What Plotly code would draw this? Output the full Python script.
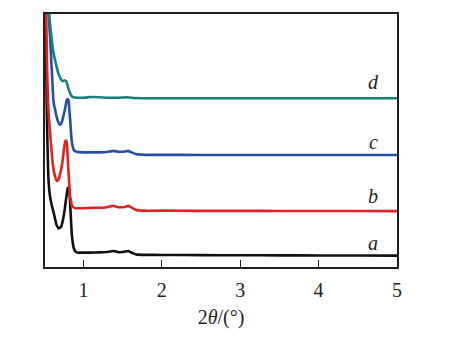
import plotly.graph_objects as go

# 2theta values (degrees) and intensities (arbitrary, offset)
a_x = [0.516, 0.524, 0.531, 0.537, 0.543, 0.548, 0.554, 0.563, 0.575, 0.595, 0.617, 0.635, 0.652, 0.667, 0.681, 0.698, 0.716, 0.732, 0.747, 0.763, 0.779, 0.79, 0.798, 0.805, 0.811, 0.818, 0.824, 0.83, 0.837, 0.845, 0.852, 0.86, 0.869, 0.88, 0.894, 0.91, 0.932, 0.96, 1.0,
       1.1, 1.2, 1.3, 1.34, 1.38, 1.42, 1.45, 1.49, 1.52, 1.57, 1.6, 1.63, 1.68, 1.8, 2.0, 2.5, 3.0, 3.5, 4.0, 4.5, 5.0]
a_y = [256, 215, 169, 140, 119, 103, 89, 79, 71, 63, 56, 50, 44, 41, 39, 39.5, 41, 45, 51, 59, 69, 75, 79, 80.5, 80, 78, 74, 65, 54, 42, 33, 27, 22, 18.5, 16, 15, 14.5, 14.5, 14.5,
       14.5, 14.8, 15.2, 15.6, 16.2, 15.6, 15, 15.2, 15.5, 16.2, 15.2, 14, 12.5, 12.3, 12.2, 12, 11.9, 11.8, 11.7, 11.6, 11.5]

b_x = [0.52, 0.525, 0.531, 0.537, 0.548, 0.56, 0.575, 0.592, 0.61, 0.628, 0.645, 0.655, 0.665, 0.677, 0.69, 0.705, 0.72, 0.733, 0.745, 0.755, 0.765, 0.772, 0.778, 0.784, 0.79, 0.795, 0.80, 0.807, 0.815, 0.822, 0.83, 0.84, 0.85, 0.865, 0.88, 0.9, 0.93, 1.0,
       1.1, 1.2, 1.3, 1.34, 1.38, 1.42, 1.45, 1.49, 1.52, 1.57, 1.6, 1.63, 1.68, 1.8, 2.0, 2.5, 3.0, 3.5, 4.0, 4.5, 5.0]
b_y = [270, 256, 228, 200, 169, 150, 136, 119, 104, 95, 90, 88, 87, 88, 90, 95, 100, 107, 115, 121, 126, 127.5, 128, 127, 124, 118, 110, 100, 90, 80, 72, 67, 63, 61, 60, 59.6, 59.5, 59.5,
       59.8, 60, 60.5, 61.2, 62, 61, 60.5, 60.4, 60.5, 62, 60.8, 59.5, 57.5, 57, 57, 56.8, 56.8, 56.7, 56.6, 56.6, 56.5]

c_x = [0.55, 0.556, 0.565, 0.575, 0.586, 0.597, 0.607, 0.617, 0.628, 0.64, 0.652, 0.665, 0.683, 0.70, 0.715, 0.73, 0.745, 0.76, 0.773, 0.785, 0.793, 0.80, 0.808, 0.815, 0.822, 0.83, 0.838, 0.845, 0.852, 0.86, 0.87, 0.88, 0.9, 0.92, 1.0,
       1.1, 1.2, 1.3, 1.34, 1.38, 1.42, 1.45, 1.49, 1.52, 1.57, 1.6, 1.63, 1.68, 1.8, 2.0, 2.5, 3.0, 3.5, 4.0, 4.5, 5.0]
c_y = [270, 256, 244, 232, 215, 199, 183, 169, 163, 159, 154, 150, 146, 144, 145, 148, 153, 158, 163, 168, 169.5, 170, 169, 165, 158, 150, 141, 133, 127, 123, 120, 118, 117, 116.5, 116,
       116, 116, 116.3, 116.8, 117.5, 117, 116.5, 116.6, 116.8, 117.5, 116.5, 115.5, 114, 113.5, 113.5, 113.4, 113.3, 113.3, 113.3, 113.3, 113.3]

d_x = [0.556, 0.5625, 0.568, 0.575, 0.586, 0.597, 0.61, 0.625, 0.64, 0.66, 0.68, 0.70, 0.72, 0.74, 0.75, 0.76, 0.77, 0.78, 0.79, 0.80, 0.815, 0.83, 0.842, 0.855, 0.875, 0.9, 1.0,
       1.09, 1.15, 1.3, 1.45, 1.56, 1.65, 1.75, 2.0, 2.5, 3.0, 3.5, 4.0, 4.5, 5.0]
d_y = [270, 256, 251, 246, 237, 229, 221, 214, 209, 202, 196, 192, 189, 188, 188.5, 189, 188.5, 188, 186, 183, 179, 176, 174, 172.5, 171.8, 171.5, 171.3,
       172, 172, 171.3, 171.3, 171.8, 171, 170.8, 170.7, 170.7, 170.7, 170.7, 170.7, 170.7, 170.7]

labels = ["a", "b", "c", "d"]
label_x = [4.7, 4.7, 4.7, 4.7]
label_y = [24, 72, 126, 187]

colors = ["#111111", "#e5201f", "#2150a5", "#17807b"]

SERIF = "Liberation Serif, Times New Roman, DejaVu Serif, serif"

fig = go.Figure()
for xs, ys, col in [(a_x, a_y, colors[0]), (b_x, b_y, colors[1]), (c_x, c_y, colors[2]), (d_x, d_y, colors[3])]:
    fig.add_trace(go.Scatter(x=xs, y=ys, mode="lines",
                             line=dict(color=col, width=2.6, shape="spline", smoothing=0.3),
                             showlegend=False, hoverinfo="skip"))

for lab, lx, ly in zip(labels, label_x, label_y):
    fig.add_annotation(x=lx, y=ly, text="<i>" + lab + "</i>", showarrow=False,
                       font=dict(family=SERIF, size=20, color="#231f20"))

fig.update_layout(
    width=458, height=337,
    margin=dict(l=45, r=61, t=13, b=68),
    paper_bgcolor="white", plot_bgcolor="white",
    font=dict(family=SERIF, color="#231f20"),
)
fig.update_xaxes(range=[0.51, 5.0], tickvals=[1, 2, 3, 4, 5], ticktext=["1", "2", "3", "4", "5"],
                 ticks="inside", ticklen=7, tickwidth=1.2, tickcolor="#231f20",
                 showline=True, linecolor="#231f20", linewidth=1.5, mirror=True,
                 showgrid=False, zeroline=False,
                 tickfont=dict(family=SERIF, size=20, color="#231f20"),
                 ticklabelstandoff=4,
                 title=dict(text="2<i>θ</i>/(°)", font=dict(family=SERIF, size=20, color="#231f20"),
                            standoff=10))
fig.update_yaxes(range=[0, 256], showticklabels=False, ticks="",
                 showline=True, linecolor="#231f20", linewidth=1.5, mirror=True,
                 showgrid=False, zeroline=False)

fig.write_html("out.html")
